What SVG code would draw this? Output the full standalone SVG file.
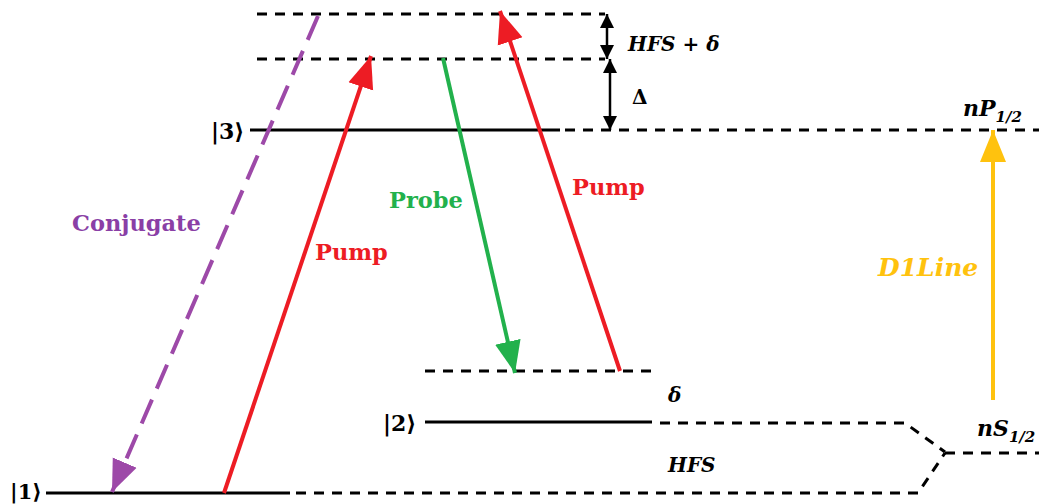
<svg xmlns="http://www.w3.org/2000/svg" width="1039" height="504" viewBox="0 0 1039 504">
<defs>
<style>
.lvl{stroke:#000;stroke-width:3;fill:none}
.dash{stroke:#000;stroke-width:3;fill:none;stroke-dasharray:10 8}
.lbl{font-family:"DejaVu Serif","Liberation Serif",serif;font-size:22.5px;font-weight:bold}
.ket{font-family:"DejaVu Serif","Liberation Serif",serif;font-size:22px;font-weight:bold;fill:#000}
.math{font-family:"DejaVu Serif","Liberation Serif",serif;font-size:20px;font-weight:bold;font-style:italic;fill:#000}
</style>
<marker id="hRed" markerWidth="34" markerHeight="30" refX="32" refY="15" orient="auto" markerUnits="userSpaceOnUse"><path d="M0,2 L32,15 L0,28 Z" fill="#ed1c24"/></marker>
<marker id="hGreen" markerWidth="34" markerHeight="30" refX="32" refY="15" orient="auto" markerUnits="userSpaceOnUse"><path d="M0,2 L32,15 L0,28 Z" fill="#22b14c"/></marker>
<marker id="hPurple" markerWidth="34" markerHeight="30" refX="32" refY="15" orient="auto" markerUnits="userSpaceOnUse"><path d="M0,2 L32,15 L0,28 Z" fill="#9d49a8"/></marker>
<marker id="hYellow" markerWidth="34" markerHeight="30" refX="32" refY="15" orient="auto" markerUnits="userSpaceOnUse"><path d="M0,2 L32,15 L0,28 Z" fill="#ffc20e"/></marker>
<marker id="hBlack" markerWidth="16" markerHeight="16" refX="14" refY="8" orient="auto-start-reverse" markerUnits="userSpaceOnUse"><path d="M0,1 L14,8 L0,15 Z" fill="#000"/></marker>
</defs>
<rect width="1039" height="504" fill="#fff"/>

<g id="level-virtual-top">
<line class="dash" x1="257" y1="14" x2="605" y2="14"/>
</g>
<g id="level-virtual-mid">
<line class="dash" x1="257" y1="59" x2="605" y2="59"/>
</g>
<g id="level-3">
<text class="ket" x="211" y="139">|3⟩</text>
<line class="lvl" x1="250" y1="130" x2="560" y2="130"/>
<line class="dash" x1="565" y1="130" x2="1039" y2="130"/>
<text class="math" x="963" y="116" style="font-size:22px">nP<tspan font-size="15" dy="6">1/2</tspan></text>
</g>
<g id="level-virtual-low">
<line class="dash" x1="425" y1="371" x2="655" y2="371"/>
</g>
<g id="level-2">
<text class="ket" x="383" y="431">|2⟩</text>
<line class="lvl" x1="425" y1="422" x2="652" y2="422"/>
<path class="dash" d="M660,423 L905,423 L945,452"/>
</g>
<g id="level-1">
<text class="ket" x="10" y="499" style="font-size:21px">|1⟩</text>
<line class="lvl" x1="46" y1="493" x2="290" y2="493"/>
<path class="dash" d="M296,493 L918,493 L945,453"/>
</g>
<g id="level-nS">
<path class="dash" d="M945,453 L1039,453"/>
<text class="math" x="977" y="436" style="font-size:22px">nS<tspan font-size="15" dy="6">1/2</tspan></text>
</g>

<g id="connectors">
<line x1="318" y1="16" x2="112" y2="492" stroke="#9d49a8" stroke-width="4" stroke-dasharray="26 12" marker-end="url(#hPurple)"/>
<line x1="224" y1="493" x2="371" y2="56" stroke="#ed1c24" stroke-width="4" marker-end="url(#hRed)"/>
<line x1="443" y1="58" x2="515" y2="373" stroke="#22b14c" stroke-width="4" marker-end="url(#hGreen)"/>
<line x1="620" y1="371" x2="500" y2="11" stroke="#ed1c24" stroke-width="4" marker-end="url(#hRed)"/>
<line x1="993" y1="400" x2="993" y2="130" stroke="#ffc20e" stroke-width="4" marker-end="url(#hYellow)"/>
<line x1="607" y1="14" x2="607" y2="59" stroke="#000" stroke-width="2.5" marker-start="url(#hBlack)" marker-end="url(#hBlack)"/>
<line x1="610" y1="59" x2="610" y2="130" stroke="#000" stroke-width="2.5" marker-start="url(#hBlack)" marker-end="url(#hBlack)"/>
</g>

<g id="labels">
<text class="lbl" x="72" y="231" fill="#8a3fa6">Conjugate</text>
<text class="lbl" x="389" y="208" fill="#22b14c">Probe</text>
<text class="lbl" x="315" y="260" fill="#ed1c24">Pump</text>
<text class="lbl" x="572" y="195" fill="#ed1c24">Pump</text>
<text class="math" x="878" y="276" style="fill:#ffc20e;font-size:25px">D1Line</text>
<text class="math" x="628" y="51">HFS + δ</text>
<text class="math" x="632" y="104" style="font-style:normal">Δ</text>
<text class="math" x="668" y="402">δ</text>
<text class="math" x="668" y="472">HFS</text>
</g>
</svg>
